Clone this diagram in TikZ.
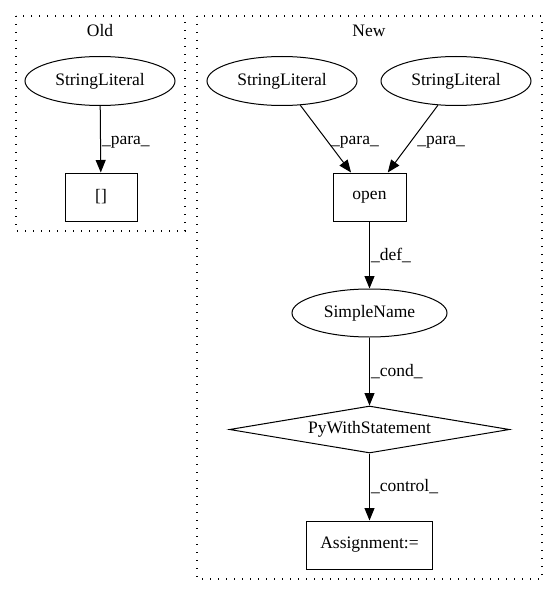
\documentclass[tikz,border=0pt]{standalone}
\usepackage{fontspec}
\setmainfont{Liberation Serif}
\usepackage{tikz}
\usetikzlibrary{arrows.meta,positioning,shapes.geometric}

\begin{document}
\begin{tikzpicture}[x=1pt,y=-1pt,
	font=\fontsize{17.5pt}{20pt}\selectfont,
	literal/.style={ellipse,draw,line width=1pt,inner sep=0pt,minimum width=150pt,minimum height=49pt},
	simple/.style={ellipse,draw,line width=1pt,inner sep=0pt,minimum width=155pt,minimum height=48pt},
	op/.style={rectangle,draw,line width=1pt,inner sep=0pt,minimum height=48pt},
	stmt/.style={diamond,draw,line width=1pt,inner sep=0pt,aspect=6,minimum width=280pt,minimum height=47pt},
	cluster/.style={draw,line width=1.3pt,dash pattern=on 1.3pt off 6.7pt},
	lbl/.style={right,inner sep=1pt},
	paths/.style={-{Triangle[length=12.5pt,width=10pt]}, line width=1pt}
	]
\useasboundingbox (0,0) rectangle (557,596);

% clusters
\draw[cluster] (16,16) rectangle (185,231);
\draw[cluster] (197,16) rectangle (542,579);
\node (oldlbl) at (100,31) {Old};
\node (newlbl) at (369,31) {New};

% old graph
\node [literal] at (100,81) (oldlit) {StringLiteral};
\node [op, minimum width=72pt] at (101,197) (index) {[]};

% new graph
\node [literal] at (282,81) (lit1) {StringLiteral};
\node [literal] at (456,81) (lit2) {StringLiteral};
\node [op, minimum width=73pt] at (369.5,197) (open) {open};
\node [simple] at (369.5,313) (name) {SimpleName};
\node [stmt] at (369.5,429.5) (with) {PyWithStatement};
\node [op, minimum width=126pt] at (369.5,545) (assign) {Assignment:=};

% paths
\draw[paths] (oldlit) -- (index) node [lbl, midway, yshift=-3pt] {\_para\_};
\draw[paths] (lit1) -- (open) node [lbl, midway, xshift=4pt, yshift=-3pt] {\_para\_};
\draw[paths] (lit2) -- (open) node [lbl, midway, xshift=3pt, yshift=-3pt] {\_para\_};
\draw[paths] (open) -- (name) node [lbl, midway] {\_def\_};
\draw[paths] (name) -- (with) node [lbl, midway] {\_cond\_};
\draw[paths] (with) -- (assign) node [lbl, midway] {\_control\_};

\end{tikzpicture}
\end{document}
